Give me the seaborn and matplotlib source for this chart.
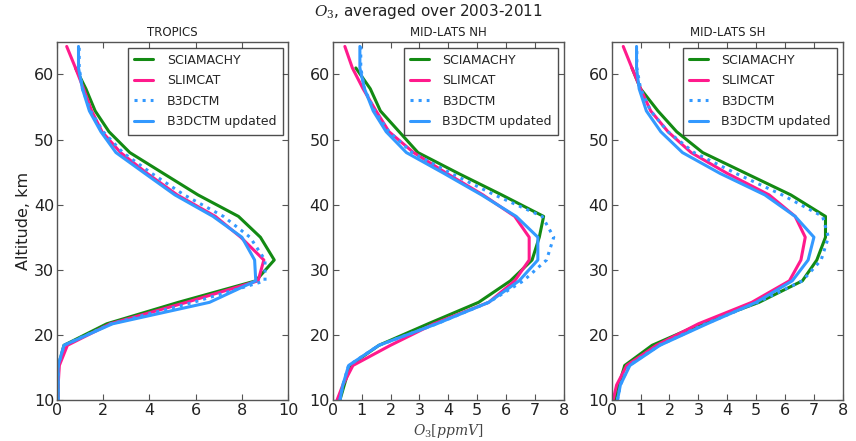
import numpy as np
import pandas as pd
import matplotlib
matplotlib.use("Agg")
import matplotlib.pyplot as plt
import seaborn as sns

nan = np.nan
# Altitude grid (km)
alt = [10, 12.3, 15.3, 18.4, 21.7, 25.0, 28.3, 31.5, 35.0, 38.2, 41.5, 44.8,
       48.0, 51.2, 54.4, 57.8, 61.0, 64.3]

series_names = ["SCIAMACHY", "SLIMCAT", "B3DCTM", "B3DCTM updated"]
panel_titles = ["TROPICS", "MID-LATS NH", "MID-LATS SH"]

# TROPICS
trop_scia = [0.05, 0.05, 0.07, 0.3, 2.15, 5.25, 8.6, 9.4, 8.8, 7.85, 6.1, 4.6, 3.15, 2.25, 1.65, 1.25, 0.8, nan]
trop_slim = [0.05, 0.05, 0.1, 0.45, 2.3, 5.6, 8.7, 8.95, 7.95, 6.85, 5.2, 3.9, 2.75, 1.95, 1.5, 1.15, 0.8, 0.42]
trop_b3d = [0.05, 0.05, 0.06, 0.3, 2.35, 5.9, 9.0, 9.0, 8.35, 7.2, 5.5, 4.1, 2.85, 2.0, 1.45, 1.1, 0.96, 0.96]
trop_b3du = [0.05, 0.05, 0.05, 0.3, 2.4, 6.6, 8.6, 8.55, 8.0, 6.75, 5.1, 3.8, 2.55, 1.9, 1.4, 1.1, 0.93, 0.93]

# MID-LATS NH
nh_scia = [0.25, 0.4, 0.6, 1.6, 3.3, 5.05, 6.15, 6.9, 7.15, 7.3, 5.85, 4.35, 2.95, 2.3, 1.65, 1.3, 0.8, nan]
nh_slim = [0.15, 0.35, 0.7, 2.0, 3.5, 5.4, 6.3, 6.8, 6.8, 6.3, 5.2, 3.95, 2.8, 1.95, 1.5, 1.05, 0.68, 0.42]
nh_b3d = [0.25, 0.35, 0.55, 1.6, 3.6, 5.4, 6.6, 7.4, 7.65, 7.25, 5.6, 4.1, 2.75, 1.95, 1.45, 1.1, 0.97, 0.97]
nh_b3du = [0.25, 0.35, 0.55, 1.6, 3.6, 5.4, 6.45, 7.1, 7.1, 6.35, 5.15, 3.85, 2.55, 1.85, 1.4, 1.1, 0.94, 0.94]

# MID-LATS SH
sh_scia = [0.1, 0.25, 0.45, 1.4, 3.1, 5.1, 6.6, 7.1, 7.4, 7.4, 6.2, 4.65, 3.15, 2.25, 1.6, 1.0, 0.7, nan]
sh_slim = [0.05, 0.17, 0.52, 1.55, 3.0, 4.85, 6.15, 6.55, 6.7, 6.35, 5.45, 4.0, 2.75, 1.95, 1.35, 1.0, 0.7, 0.4]
sh_b3d = [0.2, 0.3, 0.6, 1.65, 3.25, 5.05, 6.6, 7.25, 7.5, 7.3, 5.9, 4.3, 2.85, 1.95, 1.35, 1.0, 0.87, 0.87]
sh_b3du = [0.2, 0.3, 0.63, 1.67, 3.3, 5.0, 6.25, 6.8, 7.0, 6.35, 5.3, 3.75, 2.45, 1.7, 1.2, 0.95, 0.86, 0.86]

panels = [
    [trop_scia, trop_slim, trop_b3d, trop_b3du],
    [nh_scia, nh_slim, nh_b3d, nh_b3du],
    [sh_scia, sh_slim, sh_b3d, sh_b3du],
]
xmax = [10, 8, 8]

colors = ["#138a13", "#ff1a8c", "#3399ff", "#3399ff"]
styles = ["-", "-", ":", "-"]

sns.set_style("ticks")
plt.rcParams.update({
    "font.family": ["DejaVu Sans"],
    "xtick.direction": "in",
    "ytick.direction": "in",
    "xtick.top": True,
    "ytick.right": True,
    "xtick.major.size": 4,
    "ytick.major.size": 4,
    "axes.edgecolor": "#555555",
    "xtick.color": "#555555",
    "ytick.color": "#555555",
    "xtick.labelcolor": "#222222",
    "ytick.labelcolor": "#222222",
    "axes.linewidth": 1.0,
    "mathtext.fontset": "dejavuserif",
})

fig = plt.figure(figsize=(8.56, 4.41), dpi=100)
lefts = [0.0666, 0.3887, 0.7146]
width = 0.27
bottom, top = 0.093, 0.905
axes = [fig.add_axes([l, bottom, width, top - bottom]) for l in lefts]

for i, ax in enumerate(axes):
    for name, vals, c, ls in zip(series_names, panels[i], colors, styles):
        df = pd.DataFrame({"o3": vals, "alt": alt}).dropna()
        sns.lineplot(data=df, x="o3", y="alt", ax=ax, color=c, linestyle=ls,
                     linewidth=2.2, orient="y", estimator=None, label=name)
    ax.set_xlim(0, xmax[i])
    ax.set_ylim(10, 65)
    ax.set_xticks(np.arange(0, xmax[i] + 1, 2 if xmax[i] == 10 else 1))
    ax.set_yticks([10, 20, 30, 40, 50, 60])
    ax.tick_params(labelsize=11.5, pad=2)
    ax.set_title(panel_titles[i], fontsize=8.5, pad=4, color="#222222")
    ax.set_xlabel("")
    ax.set_ylabel("")
    leg = ax.legend(loc="upper right", fontsize=9, frameon=True, fancybox=False,
                    handlelength=1.5, handletextpad=1.1, borderpad=0.5,
                    labelspacing=0.6, borderaxespad=0.45)
    leg.get_frame().set_edgecolor("#222222")
    leg.get_frame().set_linewidth(1.0)

axes[0].set_ylabel("Altitude, km", fontsize=11.5, color="#222222", labelpad=2)
axes[1].set_xlabel("$O_3[ppmV]$", fontsize=10, color="#444444", labelpad=3)
fig.suptitle("$O_3$, averaged over 2003-2011", fontsize=11, y=0.995, color="#222222")

fig.savefig("out.png", dpi=100)
